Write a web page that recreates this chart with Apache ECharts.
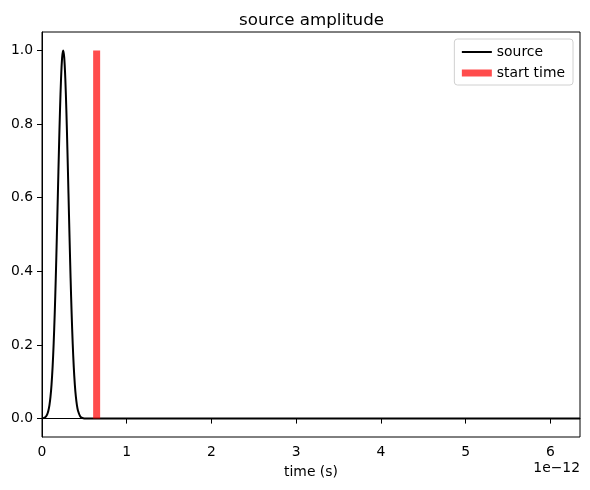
<!DOCTYPE html>
<html>
<head>
<meta charset="utf-8">
<script src="https://cdn.jsdelivr.net/npm/echarts@6/dist/echarts.min.js"></script>
<style>
  html, body { margin: 0; padding: 0; background: #fff; }
  #chart { width: 590px; height: 490px; }
</style>
</head>
<body>
<div id="chart"></div>
<script>
// time in units of 1e-12 s (picoseconds)
const timePs = [0, 0.025, 0.05, 0.0625, 0.075, 0.0875, 0.1, 0.1125, 0.125, 0.1375, 0.15, 0.1625,
  0.175, 0.1875, 0.2, 0.2125, 0.225, 0.2375, 0.25, 0.2625, 0.275, 0.2875, 0.3, 0.3125, 0.325,
  0.3375, 0.35, 0.3625, 0.375, 0.3875, 0.4, 0.4125, 0.425, 0.45, 0.475, 0.5, 6.35]
const amplitude = [0.0004, 0.0017, 0.0065, 0.0119, 0.0211, 0.0359, 0.0588, 0.0924, 0.1397, 0.2031, 0.2837, 0.3812,
  0.4923, 0.6114, 0.7298, 0.8376, 0.9243, 0.9805, 1.0, 0.9805, 0.9243, 0.8376, 0.7298, 0.6114, 0.4923,
  0.3812, 0.2837, 0.2031, 0.1397, 0.0924, 0.0588, 0.0359, 0.0211, 0.0065, 0.0017, 0.0004, 0]
const startTime = 0.645
const startRange = [0, 1]
const xTicks = [0, 1, 2, 3, 4, 5, 6]
const yTicks = [0, 0.2, 0.4, 0.6, 0.8, 1.0]

const font = 'DejaVu Sans'
let chart = echarts.init(document.getElementById('chart'))

chart.setOption({
  animation: false,
  title: {
    text: 'source amplitude',
    left: 234,
    top: 7,
    textStyle: { fontFamily: font, fontSize: 16.7, fontWeight: 'normal', color: '#000' },
  },
  legend: {
    orient: 'vertical',
    right: 17,
    top: 39,
    itemWidth: 30,
    itemHeight: 14,
    itemGap: 7,
    padding: [6, 8, 5, 4],
    backgroundColor: '#fff',
    borderColor: '#d0d0d0',
    borderWidth: 1,
    borderRadius: 3,
    textStyle: { fontFamily: font, fontSize: 13.9, color: '#000' },
    data: [
      { name: 'source', lineStyle: { width: 2 }, itemStyle: { opacity: 0 } },
      { name: 'start time', lineStyle: { width: 7 }, itemStyle: { opacity: 0 } },
    ],
  },
  grid: {
    left: 42,
    right: 10,
    top: 32,
    bottom: 53,
    show: true,
    borderColor: '#000',
    borderWidth: 1,
    backgroundColor: 'transparent',
  },
  xAxis: {
    type: 'value',
    min: 0,
    max: 6.35,
    name: 'time (s)',
    nameLocation: 'middle',
    nameGap: 28,
    nameTextStyle: { fontFamily: font, fontSize: 13.9, color: '#000' },
    splitLine: { show: false },
    axisLine: { show: true, lineStyle: { color: '#000', width: 1 } },
    axisTick: { show: true, length: 5, customValues: xTicks, lineStyle: { color: '#000' } },
    axisLabel: {
      customValues: xTicks,
      margin: 8,
      fontFamily: font,
      fontSize: 13.9,
      color: '#000',
      formatter: (v) => String(v),
    },
  },
  yAxis: {
    type: 'value',
    min: -0.05,
    max: 1.05,
    splitLine: { show: false },
    axisLine: { show: true, lineStyle: { color: '#000', width: 1 } },
    axisTick: { show: true, length: 5, customValues: yTicks, lineStyle: { color: '#000' } },
    axisLabel: {
      customValues: yTicks,
      margin: 9,
      fontFamily: font,
      fontSize: 13.9,
      color: '#000',
      formatter: (v) => v.toFixed(1),
    },
  },
  graphic: [
    {
      type: 'text',
      right: 10,
      top: 461,
      style: { text: '1e\u221212', fontFamily: font, fontSize: 13.9, fill: '#000' },
    },
  ],
  series: [
    {
      name: 'source',
      type: 'line',
      data: timePs.map((t, i) => [t, amplitude[i]]),
      smooth: 0.3,
      showSymbol: false,
      symbol: 'none',
      color: '#000',
      lineStyle: { color: '#000', width: 2 },
      z: 2,
    },
    {
      name: 'start time',
      type: 'line',
      data: startRange.map((a) => [startTime, a]),
      showSymbol: false,
      symbol: 'none',
      color: 'rgba(255,0,0,0.7)',
      lineStyle: { color: 'rgba(255,0,0,0.7)', width: 7, cap: 'butt' },
      z: 3,
    },
  ],
})
</script>
</body>
</html>
